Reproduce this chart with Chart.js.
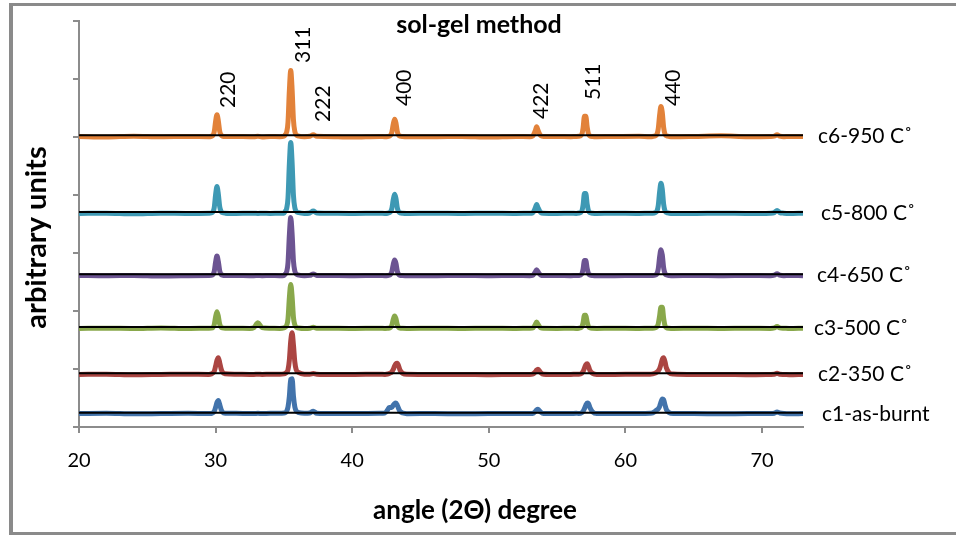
<!DOCTYPE html>
<html><head><meta charset="utf-8">
<script src="https://cdn.jsdelivr.net/npm/chart.js@4/dist/chart.umd.min.js"></script>
<style>html,body{margin:0;padding:0;background:#fff;overflow:hidden}#wrap{width:956px;height:535px;position:relative}</style>
</head><body><div id="wrap"><canvas id="c" width="956" height="535"></canvas></div>
<script>
// ---- data ----
const angles = [
20, 22, 24, 26, 28, 29.5,
29.7, 29.8, 29.9, 30.0, 30.1, 30.2, 30.3, 30.4, 30.5, 30.7,
31.5, 32.5,
32.8, 33.1, 33.4,
34, 34.7, 35.0,
35.1, 35.2, 35.3, 35.4, 35.5, 35.6, 35.7, 35.8, 35.9, 36.1,
36.5, 36.9, 37.15, 37.4,
38, 40, 42,
42.4, 42.6, 42.7, 42.8, 42.9, 43.0, 43.1, 43.2, 43.3, 43.4, 43.5, 43.7, 44.0,
46, 48, 50, 52, 53.0,
53.2, 53.4, 53.5, 53.6, 53.8, 54.0,
55, 56, 56.4,
56.6, 56.8, 56.9, 57.0, 57.1, 57.2, 57.3, 57.4, 57.6, 57.9,
59, 61, 61.8,
62.0, 62.2, 62.3, 62.4, 62.5, 62.6, 62.7, 62.8, 62.9, 63.0, 63.2, 63.5,
65, 67, 69, 70.6,
70.9, 71.1, 71.3,
71.6, 72, 73
];
const c1 = [
10, 15, 5, 10, 15, 10,
12, 24, 47, 118, 200, 235, 165, 82, 35, 14,
15, 10,
10, 15, 10,
15, 15, 20,
25, 50, 124, 310, 600, 610, 310, 124, 56, 25,
15, 20, 50, 15,
10, 10, 15,
19, 76, 114, 114, 114, 152, 181, 190, 152, 95, 48, 19, 8,
10, 5, 10, 10, 10,
9, 43, 72, 85, 34, 9,
10, 10, 15,
10, 23, 48, 95, 152, 190, 181, 114, 38, 10,
10, 10, 15,
21, 52, 73, 91, 130, 208, 260, 247, 156, 78, 26, 10,
10, 5, 10, 10,
15, 35, 20,
10, 5, 10
];
const c2 = [
5, 10, 0, 5, 10, 5,
15, 30, 59, 148, 251, 295, 207, 103, 44, 18,
10, 5,
5, 10, 5,
10, 10, 15,
22, 44, 87, 254, 580, 725, 508, 218, 87, 36,
10, 8, 20, 8,
5, 5, 10,
6, 12, 20, 30, 50, 90, 150, 190, 200, 150, 80, 24, 8,
5, 5, 0, 5, 5,
10, 48, 81, 95, 38, 10,
5, 5, 10,
8, 23, 57, 114, 171, 190, 143, 76, 23, 6,
5, 10, 10,
15, 30, 44, 65, 103, 177, 266, 295, 221, 118, 35, 12,
5, 5, 0, 5,
8, 25, 8,
5, 0, 5
];
const c3 = [
0, 5, 0, 10, 0, 5,
6, 15, 64, 203, 290, 209, 73, 20, 9, 3,
5, 0,
15, 100, 15,
5, 0, 10,
23, 53, 167, 532, 760, 547, 190, 61, 23, 8,
0, 4, 20, 4,
5, 0, 5,
0, 2, 6, 17, 54, 151, 215, 172, 65, 17, 6, 2, 0,
5, 0, 5, 0, 5,
6, 66, 110, 72, 11, 2,
0, 5, 0,
5, 24, 96, 228, 228, 108, 29, 10, 2, 0,
5, 0, 5,
4, 12, 27, 77, 212, 366, 366, 173, 46, 15, 4, 0,
5, 0, 5, 0,
10, 35, 10,
5, 0, 5
];
const c4 = [
5, 0, 5, -5, 0, 5,
7, 17, 75, 238, 340, 245, 85, 24, 10, 3,
5, 0,
0, 5, 0,
5, 0, 5,
30, 70, 221, 704, 1005, 724, 251, 80, 30, 10,
0, 6, 30, 6,
5, 0, 5,
0, 3, 8, 22, 68, 189, 270, 216, 81, 22, 8, 3, 0,
0, 5, 0, 5, 0,
5, 63, 105, 68, 11, 2,
5, 0, 5,
6, 28, 110, 261, 261, 124, 33, 11, 3, 0,
0, 5, 5,
5, 14, 32, 113, 315, 450, 360, 135, 36, 14, 5, 0,
5, 0, 5, 0,
10, 35, 10,
0, 5, 0
];
const c5 = [
0, 5, -5, 5, 0, 5,
9, 23, 102, 326, 465, 335, 116, 33, 14, 5,
0, 5,
5, 0, 5,
0, 5, 5,
37, 86, 270, 858, 1225, 882, 306, 98, 37, 12,
0, 8, 40, 8,
5, 0, 5,
0, 3, 10, 26, 83, 231, 330, 264, 99, 26, 10, 3, 0,
5, 0, 5, 0, 5,
8, 93, 155, 101, 16, 3,
0, 5, 0,
7, 36, 144, 342, 342, 162, 43, 14, 4, 0,
5, 0, 5,
5, 16, 36, 130, 364, 520, 416, 156, 42, 16, 5, 0,
0, 5, 0, 5,
15, 50, 15,
5, 0, 5
];
const c6 = [
5, -5, 10, 0, 5, 0,
8, 19, 84, 266, 380, 274, 95, 27, 11, 4,
5, 0,
0, 8, -3,
5, 0, 10,
34, 80, 251, 798, 1140, 821, 285, 91, 34, 11,
0, 7, 35, 7,
5, -5, 5,
0, 3, 9, 24, 75, 210, 300, 240, 90, 24, 9, 3, 0,
0, 5, -5, 5, 0,
9, 102, 170, 110, 17, 3,
5, 0, 5,
7, 37, 148, 352, 352, 166, 44, 15, 4, 0,
5, 10, 0,
5, 16, 36, 130, 364, 520, 416, 156, 42, 16, 5, 0,
5, 15, 0, 5,
10, 35, 10,
0, 5, 5
];
const seriesNames = ['c1-as-burnt', 'c2-350 C˚', 'c3-500 C˚', 'c4-650 C˚', 'c5-800 C˚', 'c6-950 C˚'];
const baselines = [247, 926, 1724, 2633, 3707, 5030];   // stacking offset of each pattern
const xTicks = [20, 30, 40, 50, 60, 70];
const yTicks = [0, 1000, 2000, 3000, 4000, 5000, 6000, 7000];
const peakLabels = ['220', '311', '222', '400', '422', '511', '440'];
const peakLabelAngles = [31.42, 36.91, 38.37, 44.30, 54.32, 58.13, 63.98];
const peakLabelLevels = [5500, 6276, 5259, 5534, 5310, 5638, 5534];

// ---- style ----
const colors = ['#4273AB', '#AB4542', '#89A84B', '#6C5492', '#3E99B4', '#E2823A'];
const labelDx = [19, 15, 11, 14, 18, 15];
const FONT = "Lato, 'Open Sans', 'DejaVu Sans', sans-serif";
const AXIS = '#8c8c8c';

const series = [c1, c2, c3, c4, c5, c6];
const datasets = [];
series.forEach((s, k) => {
  datasets.push({
    label: seriesNames[k],
    data: angles.map((a, i) => ({x: a, y: baselines[k] - 25 + s[i]})),
    borderColor: colors[k], borderWidth: 5, pointRadius: 0,
    cubicInterpolationMode: 'monotone', borderJoinStyle: 'round', fill: false, order: 2
  });
});
series.forEach((s, k) => {
  datasets.push({
    label: seriesNames[k] + ' baseline',
    data: [{x: 20, y: baselines[k]}, {x: 73, y: baselines[k]}],
    borderColor: '#000', borderWidth: 2, pointRadius: 0, fill: false, order: 1
  });
});

const decor = {
  id: 'decor',
  beforeDraw(chart) {
    const ctx = chart.ctx;
    ctx.save();
    ctx.fillStyle = '#fff'; ctx.fillRect(0, 0, chart.width, chart.height);
    ctx.strokeStyle = '#8a8a8a';
    ctx.lineWidth = 4; ctx.beginPath(); ctx.moveTo(11, 540); ctx.lineTo(11, 3); ctx.stroke();
    ctx.lineWidth = 3; ctx.beginPath(); ctx.moveTo(9, 4.5); ctx.lineTo(960, 4.5); ctx.stroke();
    ctx.beginPath(); ctx.moveTo(9, 533.5); ctx.lineTo(960, 533.5); ctx.stroke();
    ctx.restore();
  },
  afterDraw(chart) {
    const ctx = chart.ctx, xs = chart.scales.x, ys = chart.scales.y, ca = chart.chartArea;
    ctx.save();
    ctx.fillStyle = '#000';
    // title
    ctx.font = 'bold 25px ' + FONT; ctx.textAlign = 'center'; ctx.textBaseline = 'alphabetic';
    ctx.fillText('sol-gel method', 479, 33);
    // x title
    ctx.font = 'bold 26px ' + FONT;
    ctx.fillText('angle (2Θ) degree', 475, 519);
    // y title
    ctx.save();
    ctx.translate(46, 237.5); ctx.rotate(-Math.PI / 2);
    ctx.font = 'bold 29px ' + FONT; ctx.textAlign = 'center';
    ctx.fillText('arbitrary units', 0, 0);
    ctx.restore();
    // peak labels
    ctx.font = '21px ' + FONT; ctx.textAlign = 'left';
    peakLabels.forEach((t, i) => {
      ctx.save();
      ctx.translate(xs.getPixelForValue(peakLabelAngles[i]), ys.getPixelForValue(peakLabelLevels[i]));
      ctx.rotate(-Math.PI / 2);
      ctx.fillText(t, 0, 0);
      ctx.restore();
    });
    // series labels
    ctx.font = '21px ' + FONT;
    seriesNames.forEach((t, k) => {
      ctx.fillText(t, ca.right + labelDx[k], ys.getPixelForValue(baselines[k]) + 8);
    });
    ctx.restore();
  }
};

function draw() {
  new Chart(document.getElementById('c'), {
    type: 'line',
    data: {datasets},
    plugins: [decor],
    options: {
      responsive: false, animation: false, devicePixelRatio: 1,
      layout: {padding: {left: 0, right: 153, top: 21, bottom: 0}},
      plugins: {legend: {display: false}, tooltip: {enabled: false}, title: {display: false}},
      scales: {
        x: {
          type: 'linear', min: 20, max: 73,
          afterBuildTicks: s => { s.ticks = xTicks.map(v => ({value: v})); },
          afterFit: s => { s.height = 108; },
          ticks: {color: '#000', font: {family: FONT, size: 20}, padding: 16, maxRotation: 0, autoSkip: false},
          grid: {display: true, drawOnChartArea: false, drawTicks: true, tickLength: 6, color: AXIS, lineWidth: 2},
          border: {display: true, color: AXIS, width: 2}
        },
        y: {
          type: 'linear', min: 0, max: 7000,
          afterBuildTicks: s => { s.ticks = yTicks.map(v => ({value: v})); },
          afterFit: s => { s.width = 79; },
          ticks: {display: false},
          grid: {display: true, drawOnChartArea: false, drawTicks: true, tickLength: 6, color: AXIS, lineWidth: 2},
          border: {display: true, color: AXIS, width: 2}
        }
      }
    }
  });
}
const fl = document.fonts ? Promise.all([document.fonts.load('20px Lato'), document.fonts.load('bold 20px Lato')]) : Promise.resolve();
Promise.race([fl, new Promise(r => setTimeout(r, 500))]).then(draw, draw);
</script>
</body></html>
